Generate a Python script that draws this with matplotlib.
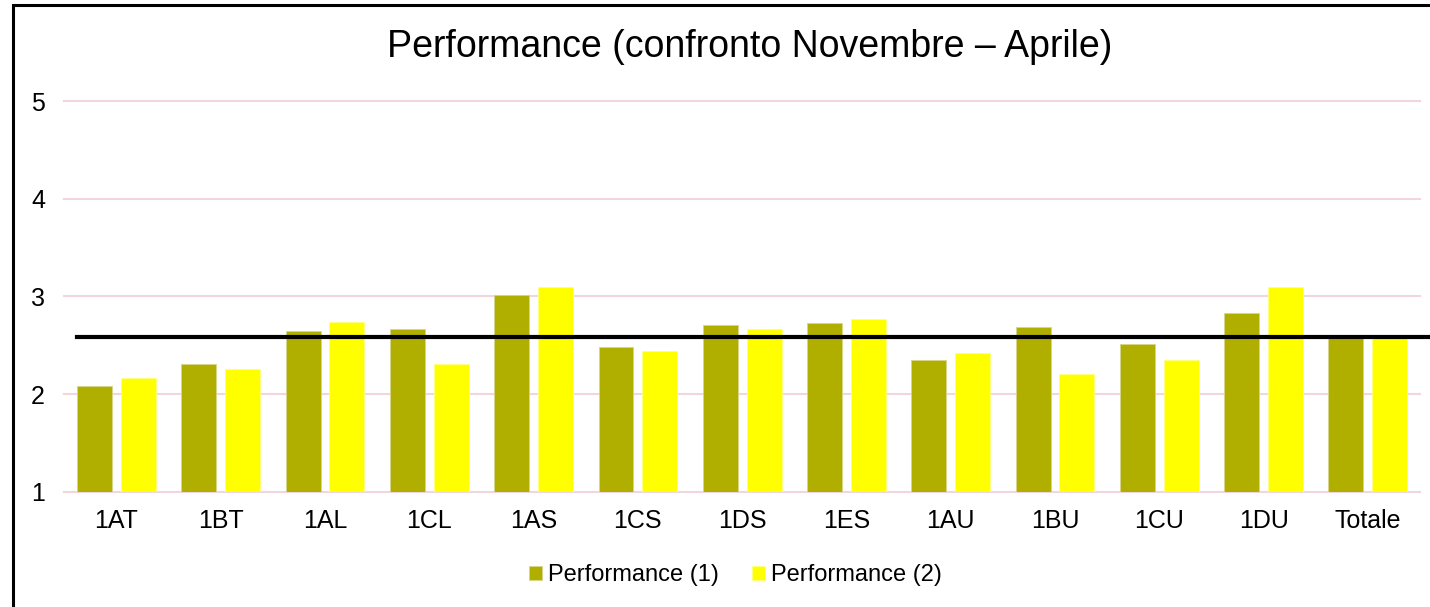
import matplotlib.pyplot as plt
import numpy as np
from matplotlib.patches import Rectangle

plt.rcParams['font.family'] = ['Liberation Sans', 'DejaVu Sans']

classi = ['1AT', '1BT', '1AL', '1CL', '1AS', '1CS', '1DS', '1ES',
          '1AU', '1BU', '1CU', '1DU', 'Totale']
perf_1 = [2.08, 2.31, 2.65, 2.67, 3.02, 2.48, 2.71, 2.73,
          2.35, 2.69, 2.51, 2.83, 2.59]
perf_2 = [2.17, 2.26, 2.74, 2.31, 3.10, 2.44, 2.67, 2.77,
          2.42, 2.21, 2.35, 3.10, 2.58]
media = 2.59

col_1 = '#B0AF00'
col_2 = '#FFFF00'
grid_col = '#F3D6DC'

fig = plt.figure(figsize=(14.3, 6.07), dpi=100)
ax = fig.add_axes([0.045, 0.1895, 0.948, 0.6441])

x = np.arange(len(classi))
w = 0.335
off = 0.21
ax.bar(x - off, perf_1, w, bottom=0, color=col_1, edgecolor='#D8D68A',
       linewidth=0.6, label='Performance (1)', zorder=2)
ax.bar(x + off, perf_2, w, bottom=0, color=col_2, edgecolor='#FFFF80',
       linewidth=0.6, label='Performance (2)', zorder=2)

ax.set_xlim(-0.5, len(classi) - 0.5)
ax.set_ylim(1, 5)
ax.set_yticks([1, 2, 3, 4, 5])
ax.grid(axis='y', color=grid_col, linewidth=1.5, zorder=0)
for gl in ax.get_ygridlines():
    gl.set_clip_on(False)
ax.set_axisbelow(True)
for s in ax.spines.values():
    s.set_visible(False)
ax.tick_params(length=0, labelsize=18, pad=12)
ax.tick_params(axis='y', pad=14)
ax.set_xticks(x)
ax.set_xticklabels(classi)

# linea della media (esce dal riquadro a destra)
ax.axhline(media, xmin=0.0094, xmax=1.007, color='black', linewidth=3,
           clip_on=False, zorder=3)

fig.text(0.5245, 0.922, 'Performance (confronto Novembre \u2013 Aprile)',
         ha='center', va='center', fontsize=27)

ax.legend(loc='center', bbox_to_anchor=(0.495, -0.213), ncol=2, frameon=False,
          fontsize=17, handlelength=0.55, handleheight=0.55,
          handletextpad=0.25, columnspacing=1.4)

# bordo del grafico
fig.patches.append(Rectangle((13 / 1430, -0.1), 1.2, 1 - 5 / 607 + 0.1,
                             transform=fig.transFigure, fill=False,
                             edgecolor='black', linewidth=2.2))

plt.savefig('out.png', dpi=100)
